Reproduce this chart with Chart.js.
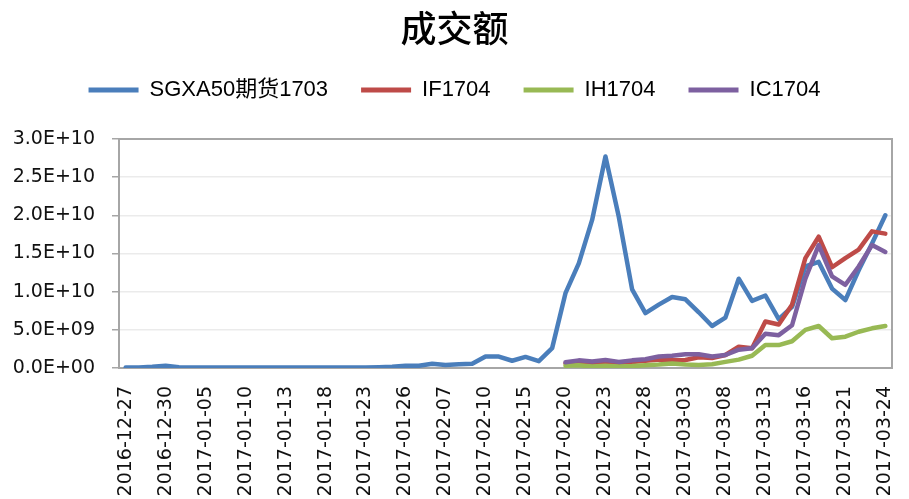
<!DOCTYPE html>
<html>
<head>
<meta charset="utf-8">
<script src="https://cdn.jsdelivr.net/npm/chart.js@4/dist/chart.umd.min.js"></script>
<style>
  html, body { margin: 0; padding: 0; background: #ffffff; }
  #c { display: block; }
</style>
</head>
<body>
<canvas id="c" width="909" height="499"></canvas>
<script>
// ---- data ----
const categories = [
  '2016-12-27','2016-12-28','2016-12-29','2016-12-30','2017-01-03','2017-01-04','2017-01-05','2017-01-06',
  '2017-01-09','2017-01-10','2017-01-11','2017-01-12','2017-01-13','2017-01-16','2017-01-17','2017-01-18',
  '2017-01-19','2017-01-20','2017-01-23','2017-01-24','2017-01-25','2017-01-26','2017-02-03','2017-02-06',
  '2017-02-07','2017-02-08','2017-02-09','2017-02-10','2017-02-13','2017-02-14','2017-02-15','2017-02-16',
  '2017-02-17','2017-02-20','2017-02-21','2017-02-22','2017-02-23','2017-02-24','2017-02-27','2017-02-28',
  '2017-03-01','2017-03-02','2017-03-03','2017-03-06','2017-03-07','2017-03-08','2017-03-09','2017-03-10',
  '2017-03-13','2017-03-14','2017-03-15','2017-03-16','2017-03-17','2017-03-20','2017-03-21','2017-03-22',
  '2017-03-23','2017-03-24'
];
const seriesNames = ['SGXA50期货1703', 'IF1704', 'IH1704', 'IC1704'];
const sgxA50 = [
  0.05e9, 0.05e9, 0.15e9, 0.3e9, 0.1e9, 0.05e9, 0.05e9, 0.05e9,
  0.05e9, 0.05e9, 0.05e9, 0.05e9, 0.05e9, 0.05e9, 0.05e9, 0.05e9,
  0.05e9, 0.05e9, 0.05e9, 0.1e9, 0.15e9, 0.3e9, 0.3e9, 0.55e9,
  0.4e9, 0.5e9, 0.55e9, 1.5e9, 1.5e9, 0.95e9, 1.45e9, 0.9e9,
  2.6e9, 9.8e9, 13.7e9, 19.4e9, 27.7e9, 19.8e9, 10.3e9, 7.2e9,
  8.3e9, 9.3e9, 9.0e9, 7.3e9, 5.5e9, 6.6e9, 11.7e9, 8.8e9,
  9.5e9, 6.4e9, 8.0e9, 13.3e9, 13.9e9, 10.4e9, 8.9e9, 12.8e9,
  16.3e9, 20.0e9
];
const N = null;
const if1704 = [
  N,N,N,N,N,N,N,N, N,N,N,N,N,N,N,N, N,N,N,N,N,N,N,N, N,N,N,N,N,N,N,N,
  N, 0.6e9, 0.75e9, 0.6e9, 0.8e9, 0.6e9, 0.8e9, 0.95e9,
  1.1e9, 1.0e9, 1.05e9, 1.4e9, 1.3e9, 1.7e9, 2.8e9, 2.6e9,
  6.1e9, 5.7e9, 8.3e9, 14.4e9, 17.2e9, 13.2e9, 14.4e9, 15.5e9,
  17.9e9, 17.6e9
];
const ih1704 = [
  N,N,N,N,N,N,N,N, N,N,N,N,N,N,N,N, N,N,N,N,N,N,N,N, N,N,N,N,N,N,N,N,
  N, 0.3e9, 0.35e9, 0.2e9, 0.3e9, 0.2e9, 0.25e9, 0.35e9,
  0.45e9, 0.6e9, 0.45e9, 0.4e9, 0.5e9, 0.8e9, 1.1e9, 1.6e9,
  3.0e9, 3.0e9, 3.5e9, 5.0e9, 5.5e9, 3.9e9, 4.1e9, 4.75e9,
  5.2e9, 5.5e9
];
const ic1704 = [
  N,N,N,N,N,N,N,N, N,N,N,N,N,N,N,N, N,N,N,N,N,N,N,N, N,N,N,N,N,N,N,N,
  N, 0.75e9, 1.0e9, 0.85e9, 1.05e9, 0.8e9, 1.0e9, 1.15e9,
  1.5e9, 1.6e9, 1.8e9, 1.8e9, 1.5e9, 1.7e9, 2.4e9, 2.6e9,
  4.5e9, 4.3e9, 5.6e9, 11.7e9, 16.1e9, 12.0e9, 10.9e9, 13.3e9,
  16.1e9, 15.2e9
];
const yTickValues = [0, 5e9, 10e9, 15e9, 20e9, 25e9, 30e9];
const titleText = '成交额';

// ---- helpers ----
function sci(v) {
  if (v === 0) return '0.0E+00';
  const e = Math.floor(Math.log10(Math.abs(v)) + 1e-9);
  const m = v / Math.pow(10, e);
  return m.toFixed(1) + 'E+' + String(e).padStart(2, '0');
}

const colors = ['#4A7EBB', '#BE4B48', '#98B954', '#7D60A0'];
const allSeries = [sgxA50, if1704, ih1704, ic1704];
const drawOrder = [3, 2, 1, 0];

const datasets = allSeries.map((d, i) => ({
  label: seriesNames[i],
  data: d,
  borderColor: colors[i],
  backgroundColor: colors[i],
  borderWidth: 4.5,
  pointRadius: 0,
  pointHoverRadius: 0,
  tension: 0,
  fill: false,
  spanGaps: false,
  borderCapStyle: 'round',
  borderJoinStyle: 'round',
  order: drawOrder[i]
}));

const frame = {
  id: 'frame',
  beforeInit(chart) {
    const lg = chart.legend;
    if (lg && !lg._patched) {
      const orig = lg.fit;
      lg.fit = function () { orig.call(this); this.height = 93; };
      lg._patched = true;
    }
  },
  beforeDatasetsDraw(chart) {
    const a = chart.chartArea, ctx = chart.ctx;
    ctx.save();
    ctx.strokeStyle = '#A6A6A6';
    ctx.lineWidth = 2;
    ctx.strokeRect(a.left, a.top, a.right - a.left, a.bottom - a.top);
    ctx.restore();
  }
};

new Chart(document.getElementById('c'), {
  type: 'line',
  data: { labels: categories, datasets },
  plugins: [frame],
  options: {
    responsive: false,
    animation: false,
    devicePixelRatio: 1,
    layout: { padding: { left: 0, right: 0, top: 0, bottom: 0 } },
    plugins: {
      title: {
        display: true,
        text: titleText,
        color: '#000000',
        font: { family: '"Noto Sans CJK SC", sans-serif', size: 36, weight: 500, lineHeight: 1.0 },
        padding: { top: 10, bottom: 0 }
      },
      legend: {
        display: true,
        position: 'top',
        labels: {
          color: '#000000',
          font: { family: '"Liberation Sans", Arial, "Noto Sans CJK SC", sans-serif', size: 22 },
          boxWidth: 50,
          boxHeight: 5,
          padding: 33,
          generateLabels(chart) {
            return Chart.defaults.plugins.legend.labels.generateLabels(chart)
              .map(l => Object.assign({}, l, { fillStyle: l.strokeStyle, lineWidth: 0 }));
          },
          sort: (a, b) => a.datasetIndex - b.datasetIndex
        }
      },
      tooltip: { enabled: false }
    },
    scales: {
      x: {
        type: 'category',
        offset: true,
        grid: { display: false, drawTicks: false },
        border: { display: false },
        ticks: {
          autoSkip: false,
          minRotation: 90,
          maxRotation: 90,
          padding: 18,
          color: '#111111',
          font: { family: '"DejaVu Sans", sans-serif', size: 19 },
          callback(val, idx) { return idx % 3 === 0 ? categories[idx] : ''; }
        },
        afterFit(scale) { scale.height = 131; scale.paddingLeft = 0; scale.paddingRight = 17; }
      },
      y: {
        min: 0,
        max: 30e9,
        afterBuildTicks(scale) { scale.ticks = yTickValues.map(v => ({ value: v })); },
        grid: { color: '#EBEBEB', lineWidth: 1.5, tickLength: 7, tickColor: '#A6A6A6', drawTicks: true },
        border: { display: false },
        ticks: {
          padding: 17,
          color: '#111111',
          font: { family: '"DejaVu Sans", sans-serif', size: 19 },
          callback(v) { return sci(v); }
        },
        afterFit(scale) { scale.width = 119; scale.paddingTop = 0; scale.paddingBottom = 0; }
      }
    }
  }
});
</script>
</body>
</html>
